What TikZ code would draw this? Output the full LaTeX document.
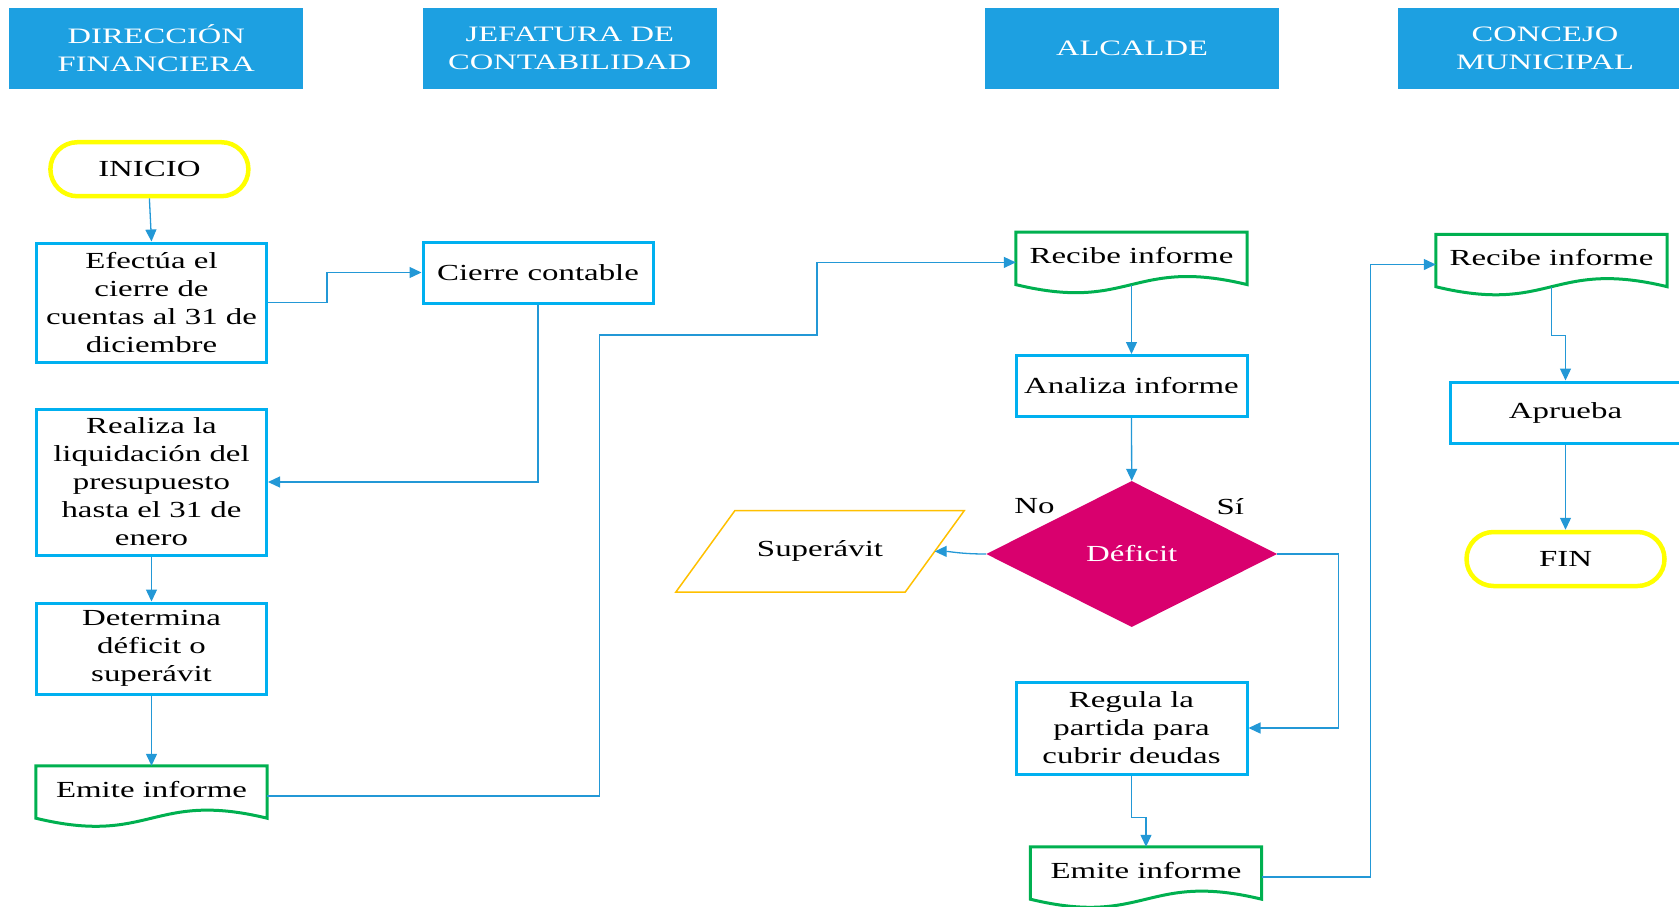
\documentclass[tikz,border=0pt]{standalone}
\usepackage{fontspec}
\setmainfont{Liberation Serif}[FakeStretch=1.43]
\newfontfamily\headfont{Liberation Serif}[FakeStretch=1.48]
\usetikzlibrary{arrows.meta,shapes.geometric,shapes.misc}

\definecolor{headblue}{RGB}{29,160,225}
\definecolor{boxcyan}{RGB}{0,176,240}
\definecolor{docgreen}{RGB}{0,176,80}
\definecolor{termyellow}{RGB}{255,255,0}
\definecolor{decmagenta}{RGB}{217,0,110}
\definecolor{ioorange}{RGB}{255,192,0}
\definecolor{flowblue}{RGB}{35,152,214}

\tikzset{
  lane/.style={rectangle, fill=headblue, minimum width=294pt, minimum height=81.5pt,
    inner sep=0pt, text=white, align=center, font=\headfont\fontsize{22}{28}\selectfont},
  body/.style={font=\fontsize{23}{28}\selectfont, align=center, inner sep=0pt},
  procbox/.style={body, rectangle, draw=boxcyan, line width=3pt, minimum width=230pt},
  docbox/.style={body, rectangle, minimum width=231pt, minimum height=60pt,
    text height=16pt, text depth=14pt, inner ysep=15pt},
  docline/.style={draw=docgreen, line width=3pt, line join=miter},
  terminal/.style={body, rounded rectangle, draw=termyellow, line width=4.5pt,
    minimum width=198pt, minimum height=54pt},
  decision/.style={body, diamond, fill=decmagenta, text=white,
    minimum width=291pt, minimum height=146pt},
  iobox/.style={draw=ioorange, line width=1.5pt},
  flow/.style={draw=flowblue, line width=1.3pt, -{Triangle[length=12pt,width=11pt]}},
  lbl/.style={body}
}

% document symbol: flat top, wavy bottom edge
\newcommand\docoutline[1]{%
  \draw[docline] (#1.north west) -- (#1.north east) -- ([yshift=8pt]#1.south east)
    .. controls +(-115.5,-28) and +(115.5,28) .. ([yshift=8pt]#1.south west) -- cycle;}

\begin{document}
\begin{tikzpicture}[x=1pt,y=-1pt]
\useasboundingbox (0,0) rectangle (1679,906);
\clip (0,0) rectangle (1679,906);

% swimlane headers
\node[lane] (h1) at (156.3,48.25) {DIRECCIÓN\\FINANCIERA};
\node[lane] (h2) at (569.8,48.25) {JEFATURA DE\\CONTABILIDAD};
\node[lane] (h3) at (1132,48.25) {ALCALDE};
\node[lane] (h4) at (1545,48.25) {CONCEJO\\MUNICIPAL};

% Dirección financiera
\node[terminal] (inicio) at (149.4,169.2) {INICIO};
\node[procbox, minimum height=119pt] (efectua) at (151.5,302.5)
  {Efectúa el\\cierre de\\cuentas al 31 de\\diciembre};
\node[procbox, minimum height=146pt] (realiza) at (151.5,482)
  {Realiza la\\liquidación del\\presupuesto\\hasta el 31 de\\enero};
\node[procbox, minimum height=91pt] (determina) at (151.5,648.5)
  {Determina\\déficit o\\superávit};
\node[docbox] (emiteL) at (151.5,796) {Emite informe};
\docoutline{emiteL}

% Jefatura de contabilidad
\node[procbox, minimum height=61pt] (cierre) at (538,272.5) {Cierre contable};

% Alcalde
\node[docbox] (recibeA) at (1131.5,262.4) {Recibe informe};
\docoutline{recibeA}
\node[procbox, minimum width=231pt, minimum height=61pt] (analiza) at (1131.5,386) {Analiza informe};
\node[decision] (deficit) at (1131.7,554) {Déficit};
\node[lbl] (no) at (1034.4,506.5) {No};
\node[lbl] (si) at (1230.3,506.5) {Sí};
\node[body, minimum width=229pt, minimum height=81pt] (superavit) at (820,551.4) {Superávit};
\draw[iobox] ([xshift=29.5pt]superavit.north west) -- ([xshift=29.5pt]superavit.north east)
  -- ([xshift=-29.5pt]superavit.south east) -- ([xshift=-29.5pt]superavit.south west) -- cycle;
\node[procbox, minimum width=231pt, minimum height=92pt] (regula) at (1131.5,728)
  {Regula la\\partida para\\cubrir deudas};
\node[docbox] (emiteA) at (1146,877) {Emite informe};
\docoutline{emiteA}

% Concejo municipal
\node[docbox] (recibeC) at (1551.5,264.5) {Recibe informe};
\docoutline{recibeC}
\node[procbox, minimum width=231pt, minimum height=61pt] (aprueba) at (1565.5,412.5) {Aprueba};
\node[terminal] (fin) at (1565.5,559) {FIN};

% connectors
\draw[flow] (inicio.south) -- (efectua.north);
\draw[flow] (efectua.east) -- ++(59,0) |- (cierre.west);
\draw[flow] (cierre.south) |- (realiza.east);
\draw[flow] (realiza.south) -- (determina.north);
\draw[flow] (determina.south) -- (emiteL.north);
\draw[flow] (emiteL.east) -- (599.6,796) -- (599.6,335) -- (817,335) |- (recibeA.west);
\draw[flow] ([yshift=8pt]recibeA.south) -- (analiza.north);
\draw[flow] (analiza.south) -- (deficit.north);
\draw[flow] (deficit.west) .. controls +(-25,0) and +(15,0) .. (superavit.east);
\draw[flow] (deficit.east) -- ++(61,0) |- (regula.east);
\draw[flow] (regula.south) -- ++(0,42) -| (emiteA.north);
\draw[flow] (emiteA.east) -- ++(108.5,0) |- (recibeC.west);
\draw[flow] ([yshift=8pt]recibeC.south) -- ++(0,49) -| (aprueba.north);
\draw[flow] (aprueba.south) -- (fin.north);
\end{tikzpicture}
\end{document}
